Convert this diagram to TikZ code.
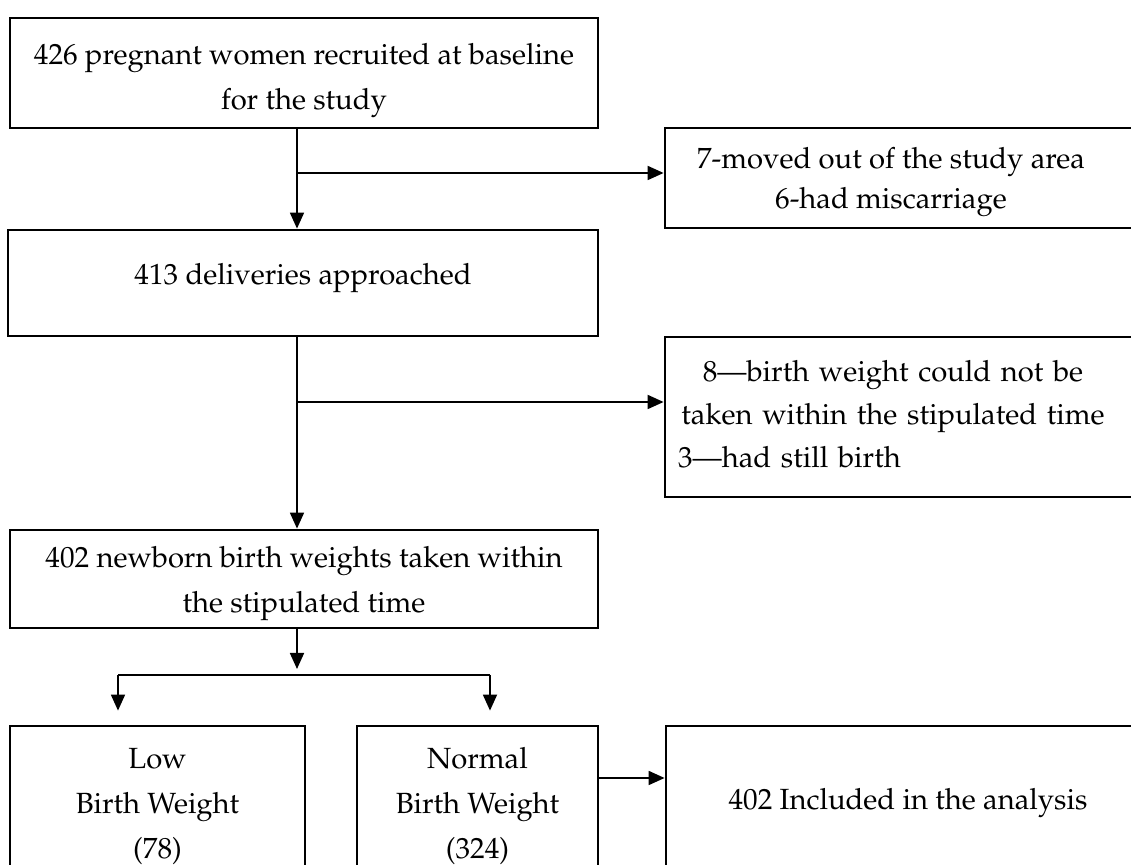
\documentclass[tikz,border=0pt]{standalone}
\usepackage[T1]{fontenc}
\usepackage{mathpazo}
\usetikzlibrary{arrows.meta,calc}
\tikzset{
  box/.style={draw, line width=1.4pt, inner sep=0pt, align=center},
  txt/.style={inner sep=0pt, align=center},
  arr/.style={line width=0.9pt, ->},
  link/.style={line width=0.9pt},
}

\begin{document}
\begin{tikzpicture}[x=0.5pt,y=-0.5pt,>={Triangle[length=8pt,width=7pt]},
    font=\fontsize{14.6}{22.5}\selectfont, line join=miter]
  \useasboundingbox (0,0) rectangle (1131,865);
  \clip (0,0) rectangle (1131,865);
  % main column
  \node[box, minimum width=294pt, minimum height=55pt] (recruit) at (304,73)
    {\rule{0pt}{18.5pt}426 pregnant women recruited at baseline\\for the study};
  \node[box, minimum width=295pt, minimum height=53pt] (deliver) at (303,283)
    {413 deliveries approached\rule[-9pt]{0pt}{1pt}};
  \node[box, minimum width=294pt, minimum height=49pt] (newborn) at (304,579)
    {\rule{0pt}{15.5pt}402 newborn birth weights taken within\\the stipulated time};
  % exclusions
  \node[box, minimum width=242.5pt, minimum height=50pt] (moved) at (907.5,178) {};
  \node[txt, font=\fontsize{14.6}{20}\selectfont] (movedtxt) at (891,182)
    {7-moved out of the study area\\6-had miscarriage};
  \node[box, minimum width=242.5pt, minimum height=80pt] (excl) at (907.5,417) {};
  \node[inner sep=0pt, text width=215pt, font=\fontsize{14.6}{21.5}\selectfont] (excltxt) at (893,414)
    {{\centering 8---birth weight could not be\\taken within the stipulated time\par}\noindent 3---had still birth};
  % bottom row
  \node[box, minimum width=147.5pt, minimum height=77pt] (low) at (157.5,803)
    {\rule{0pt}{13.5pt}Low\\Birth Weight\\(78)};
  \node[box, minimum width=120.5pt, minimum height=77pt] (normal) at (477.5,803)
    {\rule{0pt}{13.5pt}Normal\\Birth Weight\\(324)};
  \node[box, minimum width=242pt, minimum height=77pt] (analysis) at (908,803)
    {402 Included in the analysis};

  % connectors
  \coordinate (spine) at (297,0);
  \coordinate (fork1) at (297,173);
  \coordinate (fork2) at (297,402);
  \coordinate (split) at (297,675);
  \coordinate (lowtop) at (118,675);
  \coordinate (normtop) at (490,675);
  \coordinate (side) at (0,778);
  \draw[arr] (recruit.south -| spine) -- (deliver.north -| spine);
  \draw[arr] (fork1) -- (fork1 -| moved.west);
  \draw[arr] (deliver.south -| spine) -- (newborn.north -| spine);
  \draw[arr] (fork2) -- (fork2 -| excl.west);
  \draw[arr, shorten >=3pt] (newborn.south -| spine) -- (split);
  \draw[link] (lowtop) -- (normtop);
  \draw[arr, shorten >=7pt] (lowtop) -- (lowtop |- low.north);
  \draw[arr, shorten >=7pt] (normtop) -- (normtop |- normal.north);
  \draw[arr] (normal.east |- side) -- (analysis.west |- side);
\end{tikzpicture}
\end{document}
